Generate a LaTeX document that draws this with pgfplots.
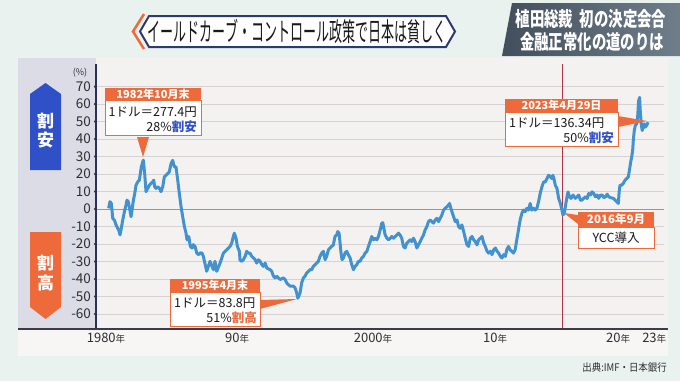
\documentclass[border=0pt]{standalone}
\usepackage{fontspec}
\setmainfont{Noto Sans CJK JP}
\usepackage{graphicx}
\usepackage{pgfplots}
\pgfplotsset{compat=1.18}
\definecolor{bgmint}{RGB}{233,242,238}
\definecolor{panel}{RGB}{244,242,241}
\definecolor{leftcol}{RGB}{219,220,229}
\definecolor{strip}{RGB}{248,246,244}
\definecolor{navy}{RGB}{42,48,84}
\definecolor{axisdark}{RGB}{60,60,70}
\definecolor{gridc}{RGB}{214,210,210}
\definecolor{zeroc}{RGB}{150,150,155}
\definecolor{curvec}{RGB}{66,146,208}
\definecolor{redline}{RGB}{176,52,70}
\definecolor{orng}{RGB}{238,106,58}
\definecolor{blu}{RGB}{48,80,200}
\definecolor{txt}{RGB}{45,45,50}
\definecolor{titlenavy}{RGB}{45,58,112}
\definecolor{boxL}{RGB}{66,78,92}
\definecolor{boxR}{RGB}{112,126,140}
\newcommand{\fsz}[1]{\fontsize{#1}{#1}\selectfont}
\newcommand{\nen}{{\fsz{9.5}年}}
\begin{document}
\begin{tikzpicture}[x=1pt,y=-1pt]
\useasboundingbox (0,0) rectangle (680,381);
\fill[bgmint] (0,0) rectangle (680,381);
% panel
\fill[leftcol] (18,58) rectangle (96,329);
\fill[panel] (96,58) rectangle (668,329);
\fill[strip] (18,329) rectangle (668,356);
% title banner
\filldraw[fill=white, draw=titlenavy, line width=2pt] (140,31.5)--(149,16)--(446,16)--(455,31.5)--(446,47)--(149,47)--cycle;
\draw[orng, line width=2.5pt] (144,14)--(133,31.5)--(144,49);
\node[text=black!90] at (297,31.5) {\scalebox{0.5}[1]{\fsz{26}イールドカーブ・コントロール政策で日本は貧しく}};
% top right box
\shade[left color=boxL, right color=boxR] (512,3) -- (680,3) -- (680,56) -- (502,56) -- cycle;
\node[text=white] at (591,19) {\scalebox{0.72}[1]{\fsz{20}\bfseries 植田総裁\hspace{0.45em}初の決定会合}};
\node[text=white] at (592,42) {\scalebox{0.72}[1]{\fsz{20}\bfseries 金融正常化の道のりは}};
% left arrows
\fill[blu] (30,94)--(45.5,83)--(61,94)--(61,170)--(30,170)--cycle;
\node[text=white, font=\fsz{17}\bfseries] at (45.5,121) {割};
\node[text=white, font=\fsz{17}\bfseries] at (45.5,140) {安};
\fill[orng] (30,232)--(61,232)--(61,307)--(45.5,319)--(30,307)--cycle;
\node[text=white, font=\fsz{17}\bfseries] at (45.5,263) {割};
\node[text=white, font=\fsz{17}\bfseries] at (45.5,283) {高};
\node[text=txt, font=\fsz{9}] at (80,73) {(\%)};
\begin{axis}[at={(96pt,-329pt)}, anchor=south west, scale only axis,
  width=568pt, height=265pt,
  xmin=1979.03, xmax=2024.9, ymin=-68.6, ymax=82.9,
  axis line style={draw=none}, clip=false,
  ytick={-60,-50,...,70},
  yticklabels={-60,-50,-40,-30,-20,-10,0,10,20,30,40,50,60,70},
  yticklabel style={font=\fsz{13.5}, text=txt, xshift=-1.5pt},
  xtick={1979.84,1990.42,2001.40,2011.26,2021.20,2024.11},
  xticklabels={1980\nen,90\nen,2000\nen,10\nen,20\nen,23\nen},
  xticklabel style={font=\fsz{13}, text=txt, yshift=-1pt},
  major tick length=0pt,
  ytick style={draw=none},
  xtick style={draw=none},
  ymajorgrids, grid style={gridc, line width=0.8pt},
]
\draw[zeroc, line width=1pt] (axis cs:1979.03,0) -- (axis cs:2024.9,0);
\draw[navy, line width=1.3pt] (rel axis cs:0,0) -- (rel axis cs:0,1);
\draw[redline, line width=1pt] (axis cs:2016.72,-68.6) -- (axis cs:2016.72,82.9);
\addplot[only marks, mark=*, mark size=1.3pt, navy, mark options={xshift=-0.6pt}] coordinates {
(1979.03,-60) (1979.03,-50) (1979.03,-40) (1979.03,-30) (1979.03,-20) (1979.03,-10) (1979.03,0)
(1979.03,10) (1979.03,20) (1979.03,30) (1979.03,40) (1979.03,50) (1979.03,60) (1979.03,70)};
\addplot[curvec, line width=3pt, line join=round] table {
x y
1980.05 0.4
1980.16 4.2
1980.27 3.2
1980.32 -0.6
1980.38 -5.3
1980.51 -6.3
1980.65 -9.1
1980.78 -11.0
1980.86 -11.9
1980.97 -14.8
1981.05 -11.9
1981.19 -6.3
1981.32 -1.7
1981.45 2.1
1981.53 5.1
1981.64 4.2
1981.72 1.3
1981.86 -4.4
1981.94 -0.6
1982.05 5.1
1982.16 8.9
1982.26 13.6
1982.40 15.5
1982.53 16.5
1982.61 20.3
1982.69 24.1
1982.85 28.0
1982.96 20.3
1983.02 14.6
1983.07 9.9
1983.21 11.8
1983.34 13.6
1983.47 14.6
1983.61 15.5
1983.69 16.5
1983.77 12.7
1983.88 11.8
1984.01 12.7
1984.15 11.8
1984.28 9.9
1984.42 12.7
1984.55 18.4
1984.68 19.3
1984.82 20.3
1984.95 21.2
1985.09 26.0
1985.22 27.8
1985.36 24.1
1985.49 24.1
1985.63 16.5
1985.76 8.9
1985.90 1.3
1986.03 -4.4
1986.17 -10.1
1986.30 -13.8
1986.38 -17.6
1986.52 -15.7
1986.65 -21.4
1986.79 -22.3
1986.89 -20.4
1987.03 -21.4
1987.17 -25.2
1987.33 -26.1
1987.46 -25.0
1987.59 -25.2
1987.70 -27.1
1987.97 -35.6
1988.24 -29.9
1988.51 -34.7
1988.64 -29.9
1988.78 -35.6
1989.05 -30.9
1989.32 -25.2
1989.58 -23.3
1989.85 -21.4
1989.99 -19.5
1990.12 -15.7
1990.20 -13.8
1990.34 -16.7
1990.45 -21.4
1990.61 -24.2
1990.66 -29.2
1990.80 -29.9
1990.93 -29.0
1991.07 -27.1
1991.20 -24.2
1991.34 -25.2
1991.47 -25.2
1991.61 -27.1
1991.74 -28.0
1991.88 -29.0
1992.01 -30.9
1992.15 -29.0
1992.28 -29.9
1992.42 -31.8
1992.55 -32.8
1992.69 -30.9
1992.82 -33.7
1993.09 -34.7
1993.22 -35.6
1993.36 -38.4
1993.49 -39.4
1993.63 -38.4
1993.90 -40.3
1994.17 -39.4
1994.30 -40.3
1994.43 -42.2
1994.57 -43.2
1994.70 -44.1
1994.97 -44.1
1995.11 -45.1
1995.24 -48.0
1995.33 -51.0
1995.51 -48.0
1995.64 -42.2
1995.78 -39.4
1995.91 -38.4
1996.04 -36.6
1996.18 -35.6
1996.31 -34.7
1996.45 -34.7
1996.58 -32.8
1996.72 -31.8
1996.85 -30.9
1996.99 -29.9
1997.12 -27.1
1997.26 -25.2
1997.39 -24.2
1997.53 -29.0
1997.66 -27.1
1997.80 -23.3
1997.93 -22.3
1998.06 -21.4
1998.20 -20.5
1998.33 -15.7
1998.47 -14.8
1998.55 -12.9
1998.66 -13.8
1998.74 -19.5
1998.82 -25.2
1998.90 -29.0
1999.01 -28.0
1999.14 -25.2
1999.28 -24.2
1999.41 -26.1
1999.55 -28.0
1999.68 -31.8
1999.82 -34.7
1999.95 -32.8
2000.09 -31.8
2000.22 -29.9
2000.36 -29.9
2000.49 -28.0
2000.63 -27.1
2000.76 -25.2
2000.90 -24.2
2001.03 -21.4
2001.17 -18.6
2001.30 -15.7
2001.44 -17.6
2001.57 -16.7
2001.71 -17.6
2001.84 -15.7
2001.98 -11.9
2002.11 -8.1
2002.19 -7.8
2002.30 -11.9
2002.38 -14.8
2002.52 -16.7
2002.65 -17.6
2002.79 -16.7
2002.92 -15.7
2003.06 -16.7
2003.19 -15.7
2003.33 -14.8
2003.46 -13.8
2003.60 -15.0
2003.72 -16.7
2003.86 -21.4
2003.99 -22.3
2004.13 -19.5
2004.26 -18.6
2004.40 -17.6
2004.53 -18.6
2004.67 -16.7
2004.80 -18.6
2004.94 -22.3
2005.07 -20.5
2005.21 -18.6
2005.34 -16.7
2005.48 -14.8
2005.61 -11.9
2005.75 -10.0
2005.88 -7.2
2006.02 -6.3
2006.15 -7.2
2006.29 -8.1
2006.42 -6.3
2006.56 -5.3
2006.69 -7.2
2006.83 -5.3
2006.96 -3.4
2007.10 -0.6
2007.23 0.4
2007.37 1.3
2007.50 2.3
2007.58 3.2
2007.69 0.4
2007.77 -1.5
2007.91 -4.4
2008.04 -7.2
2008.18 -6.3
2008.31 -10.0
2008.45 -11.0
2008.58 -9.1
2008.72 -12.9
2008.85 -16.7
2008.99 -20.5
2009.12 -21.4
2009.26 -16.7
2009.39 -15.7
2009.53 -17.6
2009.66 -18.6
2009.80 -20.5
2009.93 -17.6
2010.07 -16.7
2010.20 -15.7
2010.34 -19.5
2010.47 -21.4
2010.61 -24.2
2010.74 -25.2
2010.88 -24.2
2011.01 -26.1
2011.15 -23.3
2011.28 -22.3
2011.42 -24.2
2011.55 -25.2
2011.69 -27.1
2011.82 -28.0
2011.96 -26.1
2012.09 -27.1
2012.20 -23.3
2012.34 -21.4
2012.47 -23.3
2012.61 -24.2
2012.74 -25.2
2012.88 -23.3
2013.01 -17.6
2013.15 -11.9
2013.28 -6.3
2013.42 -2.5
2013.55 -0.6
2013.69 -1.5
2013.82 0.4
2013.96 -0.6
2014.09 3.2
2014.23 -0.6
2014.36 0.4
2014.50 -0.6
2014.63 0.4
2014.77 4.2
2014.90 8.9
2015.04 12.7
2015.18 15.5
2015.31 15.5
2015.45 17.4
2015.58 19.3
2015.72 18.4
2015.85 17.4
2015.93 19.3
2016.04 16.5
2016.12 13.6
2016.26 11.7
2016.39 6.1
2016.53 3.2
2016.66 -0.6
2016.74 -3.4
2016.85 -2.5
2016.93 1.3
2017.07 7.0
2017.15 9.8
2017.26 7.0
2017.39 6.1
2017.55 8.0
2017.74 6.1
2017.88 7.0
2018.01 8.0
2018.15 5.0
2018.28 5.1
2018.42 6.1
2018.55 7.0
2018.69 6.0
2018.82 8.9
2018.96 8.0
2019.09 9.8
2019.23 8.9
2019.36 7.0
2019.50 8.0
2019.63 6.1
2019.77 8.0
2019.90 8.0
2020.04 6.5
2020.17 7.0
2020.31 8.5
2020.44 7.0
2020.58 6.5
2020.81 6.1
2021.08 4.2
2021.21 3.2
2021.29 10.8
2021.35 13.6
2021.48 13.6
2021.61 14.6
2021.75 16.5
2021.88 17.4
2022.02 18.4
2022.15 24.1
2022.21 26.9
2022.29 29.7
2022.37 33.5
2022.42 39.2
2022.50 44.9
2022.58 47.7
2022.69 48.7
2022.77 52.5
2022.85 61.9
2022.93 63.8
2022.98 56.3
2023.06 48.7
2023.14 44.9
2023.22 46.8
2023.30 48.7
2023.38 46.8
2023.49 47.7
2023.62 49.6
};
\end{axis}
% bottom axis line
\draw[axisdark, line width=1.3pt] (18,329) -- (668,329);
% annotation 1
\fill[orng] (105,88) rectangle (201,100);
\node[text=white, font=\fsz{11}\bfseries, inner sep=0] at (153,94) {1982年10月末};
\filldraw[fill=white, draw=orng, line width=0.8pt] (105,100) rectangle (201,135);
\node[anchor=west, font=\fsz{12.5}, inner sep=0, text=black!90] at (108.5,112) {1ドル＝277.4円};
\node[anchor=east, font=\fsz{12.5}, inner sep=0, text=black!90] at (197,127) {28\%\textcolor{blu}{\bfseries 割安}};
\fill[orng] (137,137) -- (149,137) -- (143,157) -- cycle;
% annotation 2
\fill[orng] (170,279) rectangle (260,292);
\node[text=white, font=\fsz{11}\bfseries, inner sep=0] at (215,285.5) {1995年4月末};
\filldraw[fill=white, draw=orng, line width=0.8pt] (170,292) rectangle (260,326);
\node[anchor=west, font=\fsz{12.5}, inner sep=0, text=black!90] at (174,303.5) {1ドル＝83.8円};
\node[anchor=east, font=\fsz{12.5}, inner sep=0, text=black!90] at (257,318) {51\%\textcolor{orng}{\bfseries 割高}};
\fill[orng] (260,300) -- (260,309) -- (297,299) -- cycle;
% annotation 3
\fill[orng] (505,99) rectangle (618,112);
\node[text=white, font=\fsz{11}\bfseries, inner sep=0] at (561.5,105.5) {2023年4月29日};
\filldraw[fill=white, draw=orng, line width=0.8pt] (505,112) rectangle (618,146);
\node[anchor=west, font=\fsz{12.5}, inner sep=0, text=black!90] at (509,123) {1ドル＝136.34円};
\node[anchor=east, font=\fsz{12.5}, inner sep=0, text=black!90] at (614,137.5) {50\%\textcolor{blu}{\bfseries 割安}};
\fill[orng] (618,116) -- (618,127) -- (647,121) -- cycle;
% annotation 4
\fill[orng] (578,212) rectangle (654,227);
\node[text=white, font=\fsz{11.5}\bfseries, inner sep=0] at (616,219.5) {2016年9月};
\filldraw[fill=white, draw=orng, line width=0.8pt] (578,227) rectangle (654,248);
\node[font=\fsz{12.5}, inner sep=0, text=black!90] at (616,237.5) {YCC導入};
\fill[orng] (578,215) -- (578,224) -- (564,213) -- cycle;
% source
\node[anchor=east, text=txt, inner sep=0] at (667,368) {\scalebox{0.9}[1]{\fsz{10.5}出典:IMF・日本銀行}};
\end{tikzpicture}
\end{document}
